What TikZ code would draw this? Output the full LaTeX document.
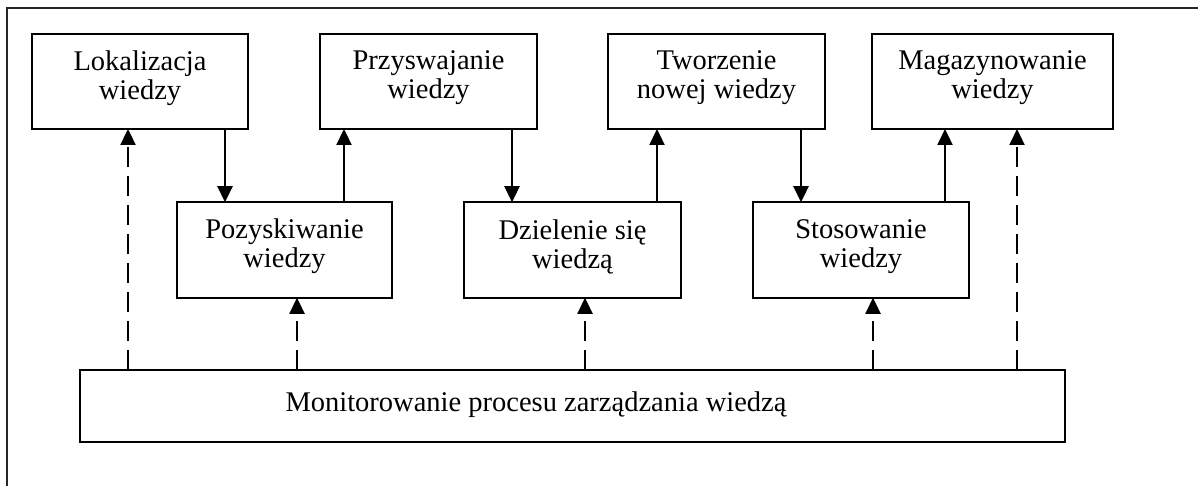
\documentclass[tikz,border=0pt]{standalone}
\usepackage{fontspec}
\setmainfont{Liberation Serif}
\usetikzlibrary{arrows.meta}
\begin{document}
\begin{tikzpicture}[x=1pt,y=-1pt,
  box/.style={draw,line width=2.3pt,rectangle,inner sep=0pt,outer sep=0pt},
  boxtext/.style={align=center,inner sep=0pt,font=\fontsize{28.5}{29}\selectfont,yshift=3.5pt},
  flow/.style={line width=2.3pt,-{Triangle[length=16pt,width=15pt]}},
  monitor/.style={flow,dash pattern=on 20pt off 9pt},
  frame/.style={line width=1.8pt,black!85}]
\useasboundingbox (0,0) rectangle (1198,486);
% outer frame
\draw[frame] (7,490) -- (7,8) -- (1202,8);

% upper row
\node[box,minimum width=216pt,minimum height=95pt] (lok) at (140,81.5) {};
\node[box,minimum width=217pt,minimum height=95pt] (prz) at (428.5,81.5) {};
\node[box,minimum width=217pt,minimum height=95pt] (two) at (716.5,81.5) {};
\node[box,minimum width=241pt,minimum height=95pt] (mag) at (992.5,81.5) {};
% middle row
\node[box,minimum width=215pt,minimum height=95.5pt] (poz) at (284.5,250) {};
\node[box,minimum width=217pt,minimum height=95.5pt] (dzi) at (572.5,250) {};
\node[box,minimum width=216pt,minimum height=95.5pt] (sto) at (861,250) {};
% monitoring bar
\node[box,minimum width=985pt,minimum height=72pt] (mon) at (572.5,406) {};

% labels
\node[boxtext] (lok-t) at (lok) {Lokalizacja\\wiedzy};
\node[boxtext] (prz-t) at (prz) {Przyswajanie\\wiedzy};
\node[boxtext] (two-t) at (two) {Tworzenie\\nowej wiedzy};
\node[boxtext] (mag-t) at (mag) {Magazynowanie\\wiedzy};
\node[boxtext] (poz-t) at (poz) {Pozyskiwanie\\wiedzy};
\node[boxtext] (dzi-t) at (dzi) {Dzielenie się\\wiedzą};
\node[boxtext] (sto-t) at (sto) {Stosowanie\\wiedzy};
\node[boxtext,yshift=-2pt] (mon-t) at (536,406) {Monitorowanie procesu zarządzania wiedzą};

% process flow
\draw[flow] ([xshift=85pt]lok.south) -- ([xshift=-59.5pt]poz.north);
\draw[flow] ([xshift=59.5pt]poz.north) -- ([xshift=-84.5pt]prz.south);
\draw[flow] ([xshift=83.5pt]prz.south) -- ([xshift=-60.5pt]dzi.north);
\draw[flow] ([xshift=84.5pt]dzi.north) -- ([xshift=-59.5pt]two.south);
\draw[flow] ([xshift=84.5pt]two.south) -- ([xshift=-60pt]sto.north);
\draw[flow] ([xshift=84pt]sto.north) -- ([xshift=-47.5pt]mag.south);

% monitoring links
\draw[monitor] ([xshift=-444.5pt]mon.north) -- ([xshift=-12pt]lok.south);
\draw[monitor] ([xshift=-275.5pt]mon.north) -- ([xshift=12.5pt]poz.south);
\draw[monitor] ([xshift=12.5pt]mon.north) -- ([xshift=12.5pt]dzi.south);
\draw[monitor] ([xshift=300.5pt]mon.north) -- ([xshift=12pt]sto.south);
\draw[monitor] ([xshift=444.5pt]mon.north) -- ([xshift=24.5pt]mag.south);
\end{tikzpicture}
\end{document}
